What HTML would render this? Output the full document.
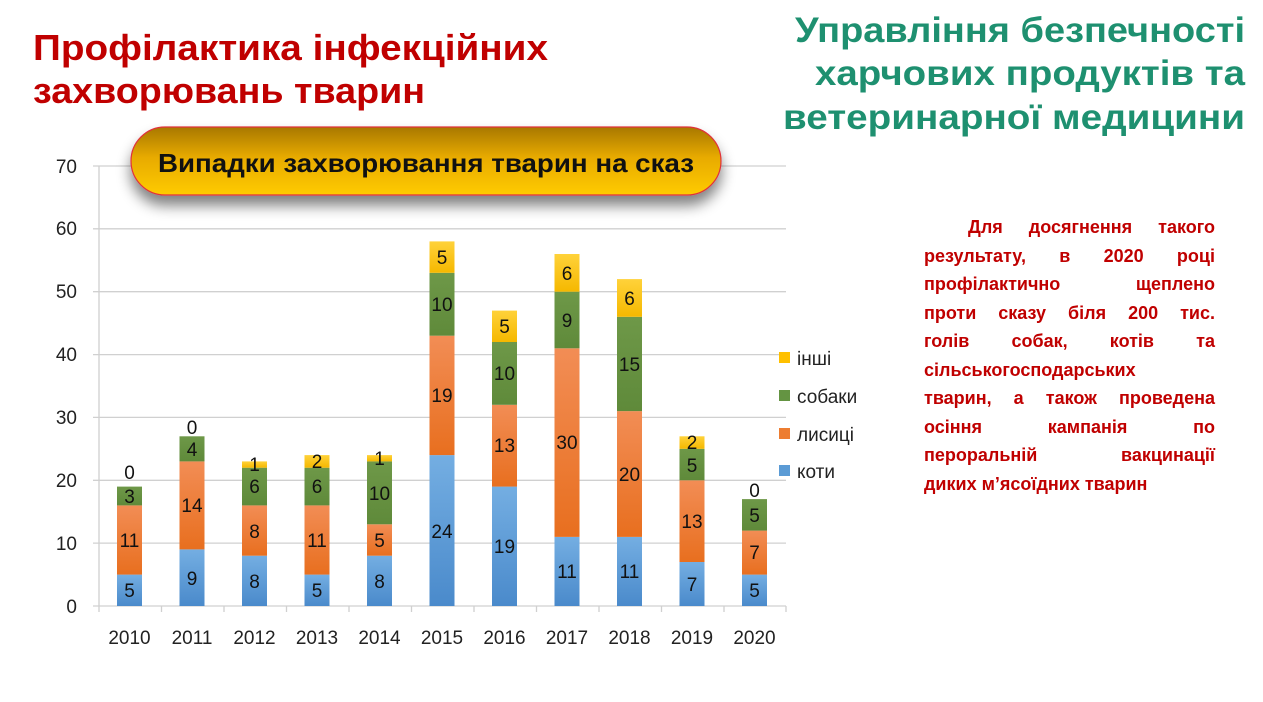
<!DOCTYPE html>
<html><head><meta charset="utf-8"><style>
html,body{margin:0;padding:0;background:#fff;}
svg{display:block;position:absolute;left:0;top:0;}
.p{position:absolute;left:924px;width:291px;font-family:"Liberation Sans",sans-serif;font-weight:bold;font-size:18px;color:#c00000;line-height:20px;text-align:justify;text-align-last:justify;white-space:nowrap;}
</style></head><body>
<svg width="1263" height="702" viewBox="0 0 1263 702" xmlns="http://www.w3.org/2000/svg" font-family="Liberation Sans, DejaVu Sans, sans-serif">
<defs>
<linearGradient id="gb" x1="0" y1="0" x2="0" y2="1"><stop offset="0" stop-color="#74aee2"/><stop offset="1" stop-color="#4a8acb"/></linearGradient>
<linearGradient id="go" x1="0" y1="0" x2="0" y2="1"><stop offset="0" stop-color="#f28d55"/><stop offset="1" stop-color="#e86f1f"/></linearGradient>
<linearGradient id="gg" x1="0" y1="0" x2="0" y2="1"><stop offset="0" stop-color="#6e9848"/><stop offset="1" stop-color="#5f8a3a"/></linearGradient>
<linearGradient id="gy" x1="0" y1="0" x2="0" y2="1"><stop offset="0" stop-color="#ffd23a"/><stop offset="1" stop-color="#f5b800"/></linearGradient>
<linearGradient id="ban" x1="0" y1="0" x2="0" y2="1"><stop offset="0" stop-color="#a87800"/><stop offset="0.45" stop-color="#e8ab00"/><stop offset="1" stop-color="#ffcb00"/></linearGradient>
<filter id="sh" x="-10%" y="-30%" width="120%" height="180%"><feGaussianBlur in="SourceAlpha" stdDeviation="7"/><feOffset dx="0" dy="10"/><feComponentTransfer><feFuncA type="linear" slope="0.5"/></feComponentTransfer><feMerge><feMergeNode/><feMergeNode in="SourceGraphic"/></feMerge></filter>
</defs>

<g stroke="#d0d0d0" stroke-width="1.3">
<line x1="93" y1="543.1" x2="786" y2="543.1"/>
<line x1="93" y1="480.3" x2="786" y2="480.3"/>
<line x1="93" y1="417.4" x2="786" y2="417.4"/>
<line x1="93" y1="354.6" x2="786" y2="354.6"/>
<line x1="93" y1="291.7" x2="786" y2="291.7"/>
<line x1="93" y1="228.8" x2="786" y2="228.8"/>
<line x1="93" y1="166" x2="786" y2="166"/>
<line x1="99" y1="166" x2="99" y2="612"/>
<line x1="93" y1="606" x2="786" y2="606"/>
<line x1="161.5" y1="606" x2="161.5" y2="612"/><line x1="224" y1="606" x2="224" y2="612"/><line x1="286.5" y1="606" x2="286.5" y2="612"/><line x1="349" y1="606" x2="349" y2="612"/><line x1="411.5" y1="606" x2="411.5" y2="612"/><line x1="474" y1="606" x2="474" y2="612"/><line x1="536.5" y1="606" x2="536.5" y2="612"/><line x1="599" y1="606" x2="599" y2="612"/><line x1="661.5" y1="606" x2="661.5" y2="612"/><line x1="724" y1="606" x2="724" y2="612"/><line x1="786" y1="606" x2="786" y2="612"/>
</g>

<g font-size="19" fill="#222" text-anchor="end">
<text x="77" y="613">0</text><text x="77" y="550">10</text><text x="77" y="487">20</text><text x="77" y="424">30</text><text x="77" y="361">40</text><text x="77" y="298">50</text><text x="77" y="235">60</text><text x="77" y="173">70</text>
</g>
<g font-size="19" fill="#222" text-anchor="middle">
<text x="129.5" y="644">2010</text><text x="192" y="644">2011</text><text x="254.5" y="644">2012</text><text x="317" y="644">2013</text><text x="379.5" y="644">2014</text><text x="442" y="644">2015</text><text x="504.5" y="644">2016</text><text x="567" y="644">2017</text><text x="629.5" y="644">2018</text><text x="692" y="644">2019</text><text x="754.5" y="644">2020</text>
</g>

<g>
<rect x="117" y="574.6" width="25" height="31.4" fill="url(#gb)"/><rect x="117" y="505.4" width="25" height="69.2" fill="url(#go)"/><rect x="117" y="486.6" width="25" height="18.8" fill="url(#gg)"/>
<rect x="179.5" y="549.4" width="25" height="56.6" fill="url(#gb)"/><rect x="179.5" y="461.4" width="25" height="88" fill="url(#go)"/><rect x="179.5" y="436.3" width="25" height="25.1" fill="url(#gg)"/>
<rect x="242" y="555.7" width="25" height="50.3" fill="url(#gb)"/><rect x="242" y="505.4" width="25" height="50.3" fill="url(#go)"/><rect x="242" y="467.7" width="25" height="37.7" fill="url(#gg)"/><rect x="242" y="461.4" width="25" height="6.3" fill="url(#gy)"/>
<rect x="304.5" y="574.6" width="25" height="31.4" fill="url(#gb)"/><rect x="304.5" y="505.4" width="25" height="69.2" fill="url(#go)"/><rect x="304.5" y="467.7" width="25" height="37.7" fill="url(#gg)"/><rect x="304.5" y="455.1" width="25" height="12.6" fill="url(#gy)"/>
<rect x="367" y="555.7" width="25" height="50.3" fill="url(#gb)"/><rect x="367" y="524.3" width="25" height="31.4" fill="url(#go)"/><rect x="367" y="461.4" width="25" height="62.9" fill="url(#gg)"/><rect x="367" y="455.1" width="25" height="6.3" fill="url(#gy)"/>
<rect x="429.5" y="455.1" width="25" height="150.9" fill="url(#gb)"/><rect x="429.5" y="335.7" width="25" height="119.4" fill="url(#go)"/><rect x="429.5" y="272.8" width="25" height="62.9" fill="url(#gg)"/><rect x="429.5" y="241.4" width="25" height="31.4" fill="url(#gy)"/>
<rect x="492" y="486.6" width="25" height="119.4" fill="url(#gb)"/><rect x="492" y="404.8" width="25" height="81.8" fill="url(#go)"/><rect x="492" y="342" width="25" height="62.8" fill="url(#gg)"/><rect x="492" y="310.6" width="25" height="31.4" fill="url(#gy)"/>
<rect x="554.5" y="536.9" width="25" height="69.1" fill="url(#gb)"/><rect x="554.5" y="348.3" width="25" height="188.6" fill="url(#go)"/><rect x="554.5" y="291.7" width="25" height="56.6" fill="url(#gg)"/><rect x="554.5" y="254" width="25" height="37.7" fill="url(#gy)"/>
<rect x="617" y="536.9" width="25" height="69.1" fill="url(#gb)"/><rect x="617" y="411.1" width="25" height="125.8" fill="url(#go)"/><rect x="617" y="316.8" width="25" height="94.3" fill="url(#gg)"/><rect x="617" y="279.1" width="25" height="37.7" fill="url(#gy)"/>
<rect x="679.5" y="562" width="25" height="44" fill="url(#gb)"/><rect x="679.5" y="480.3" width="25" height="81.7" fill="url(#go)"/><rect x="679.5" y="448.8" width="25" height="31.5" fill="url(#gg)"/><rect x="679.5" y="436.3" width="25" height="12.5" fill="url(#gy)"/>
<rect x="742" y="574.6" width="25" height="31.4" fill="url(#gb)"/><rect x="742" y="530.6" width="25" height="44" fill="url(#go)"/><rect x="742" y="499.1" width="25" height="31.5" fill="url(#gg)"/>
</g>

<g font-size="19" fill="#111" text-anchor="middle">
<text x="129.5" y="597">5</text><text x="129.5" y="547">11</text><text x="129.5" y="503">3</text><text x="129.5" y="479">0</text>
<text x="192" y="585">9</text><text x="192" y="512">14</text><text x="192" y="456">4</text><text x="192" y="434">0</text>
<text x="254.5" y="588">8</text><text x="254.5" y="538">8</text><text x="254.5" y="493">6</text><text x="254.5" y="471">1</text>
<text x="317" y="597">5</text><text x="317" y="547">11</text><text x="317" y="493">6</text><text x="317" y="468">2</text>
<text x="379.5" y="588">8</text><text x="379.5" y="547">5</text><text x="379.5" y="500">10</text><text x="379.5" y="465">1</text>
<text x="442" y="538">24</text><text x="442" y="402">19</text><text x="442" y="311">10</text><text x="442" y="264">5</text>
<text x="504.5" y="553">19</text><text x="504.5" y="452">13</text><text x="504.5" y="380">10</text><text x="504.5" y="333">5</text>
<text x="567" y="578">11</text><text x="567" y="449">30</text><text x="567" y="327">9</text><text x="567" y="280">6</text>
<text x="629.5" y="578">11</text><text x="629.5" y="481">20</text><text x="629.5" y="371">15</text><text x="629.5" y="305">6</text>
<text x="692" y="591">7</text><text x="692" y="528">13</text><text x="692" y="472">5</text><text x="692" y="449">2</text>
<text x="754.5" y="597">5</text><text x="754.5" y="559">7</text><text x="754.5" y="522">5</text><text x="754.5" y="497">0</text>
</g>

<rect x="779" y="352" width="11" height="11" fill="#ffc000"/><text x="797" y="365" font-size="19" fill="#222">інші</text>
<rect x="779" y="390" width="11" height="11" fill="#649442"/><text x="797" y="403" font-size="19" fill="#222">собаки</text>
<rect x="779" y="428" width="11" height="11" fill="#ed7d31"/><text x="797" y="441" font-size="19" fill="#222">лисиці</text>
<rect x="779" y="465" width="11" height="11" fill="#5b9bd5"/><text x="797" y="478" font-size="19" fill="#222">коти</text>

<rect x="131" y="127" width="590" height="68" rx="34" fill="url(#ban)" stroke="#e0303a" stroke-width="1.2" filter="url(#sh)"/>
<text x="426" y="172" font-size="26" font-weight="bold" fill="#111" text-anchor="middle" textLength="536" lengthAdjust="spacingAndGlyphs">Випадки захворювання тварин на сказ</text>

<g font-size="36" font-weight="bold" fill="#c00000">
<text x="33" y="60" textLength="515" lengthAdjust="spacingAndGlyphs">Профілактика інфекційних</text>
<text x="33" y="103" textLength="392" lengthAdjust="spacingAndGlyphs">захворювань тварин</text>
</g>
<g font-size="35" font-weight="bold" fill="#1e9070">
<text x="795" y="42" textLength="450" lengthAdjust="spacingAndGlyphs">Управління безпечності</text>
<text x="815" y="85" textLength="430" lengthAdjust="spacingAndGlyphs">харчових продуктів та</text>
<text x="783" y="129" textLength="462" lengthAdjust="spacingAndGlyphs">ветеринарної медицини</text>
</g>
</svg>

<div class="p" style="top:217px;left:968px;width:247px;">Для досягнення такого</div>
<div class="p" style="top:246px;">результату, в 2020 році</div>
<div class="p" style="top:274px;">профілактично щеплено</div>
<div class="p" style="top:303px;">проти сказу біля 200 тис.</div>
<div class="p" style="top:331px;">голів собак, котів та</div>
<div class="p" style="top:360px;text-align:left;text-align-last:left;">сільськогосподарських</div>
<div class="p" style="top:388px;">тварин, а також проведена</div>
<div class="p" style="top:417px;">осіння кампанія по</div>
<div class="p" style="top:445px;">пероральній вакцинації</div>
<div class="p" style="top:474px;text-align:left;text-align-last:left;">диких м’ясоїдних тварин</div>
</body></html>
